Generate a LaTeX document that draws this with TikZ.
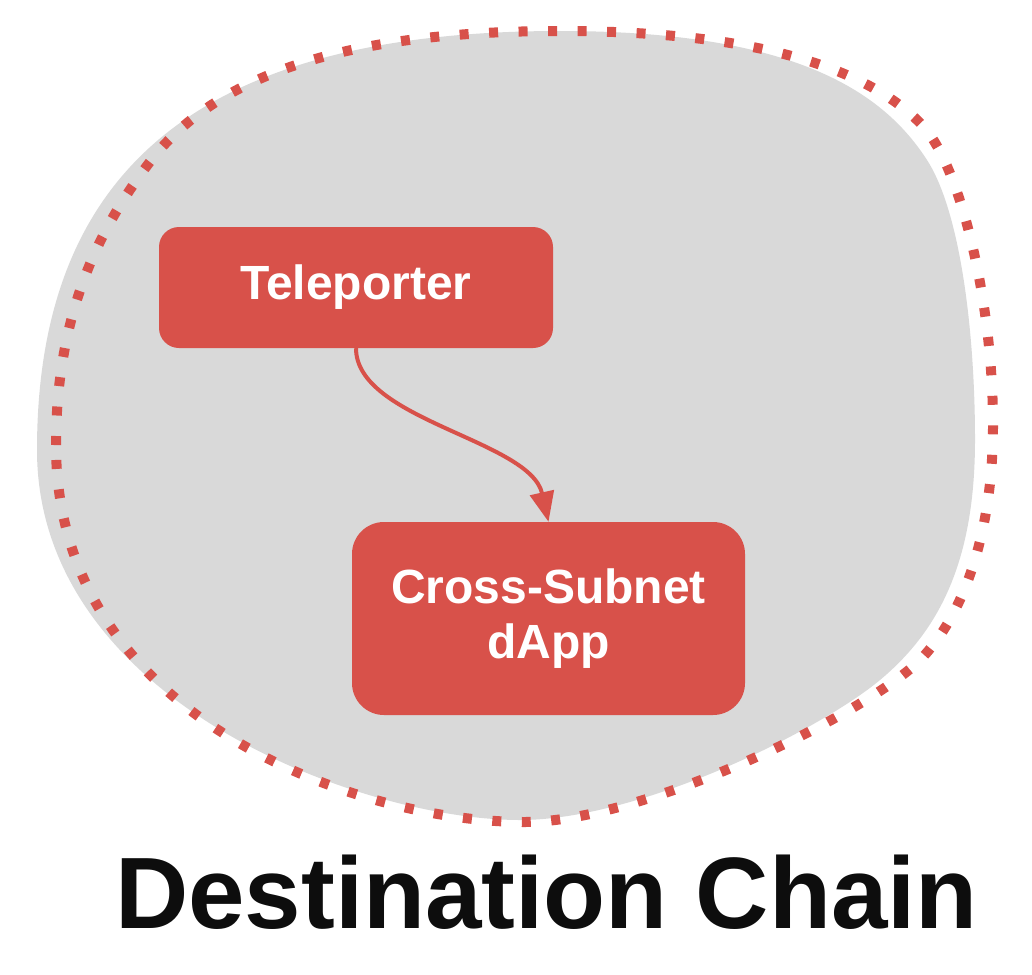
\documentclass[tikz,border=0pt]{standalone}
\usepackage{fontspec}
\setmainfont{Liberation Sans}
\usetikzlibrary{arrows.meta}
\definecolor{boxred}{HTML}{D8514A}
\definecolor{blobgray}{HTML}{D9D9D9}
\definecolor{titleblack}{HTML}{0D0D0D}
\tikzset{
  redbox/.style={fill=boxred, draw=none, text=white, font=\bfseries, align=center, inner sep=0pt},
  flow/.style={draw=boxred, line width=4pt, -{Triangle[length=30pt,width=24pt]}},
  dotline/.style={draw=boxred, line width=10pt, dash pattern=on 9pt off 20.5pt},
}
\begin{document}
\begin{tikzpicture}[x=1pt,y=-1pt]
\useasboundingbox (0,0) rectangle (1032,974);
% gray blob
\fill[blobgray] (37,450) .. controls (37,170) and (200,31) .. (560,31)
  .. controls (800,31) and (885,95) .. (927,160)
  .. controls (960,211) and (975,330) .. (975,440)
  .. controls (975,560) and (940,630) .. (880,680)
  .. controls (820,730) and (640,820) .. (520,820)
  .. controls (360,820) and (37,700) .. cycle;
% dotted outline
\draw[dotline] (56,445) .. controls (56,300) and (110,215) .. (149,163)
  .. controls (210,82) and (330,31) .. (560,31)
  .. controls (760,31) and (870,70) .. (922,125)
  .. controls (960,165) and (993,300) .. (993,425)
  .. controls (993,540) and (960,620) .. (919,661)
  .. controls (860,718) and (640,822) .. (525,822)
  .. controls (360,822) and (56,720) .. cycle;
% boxes
\node[redbox, minimum width=394pt, minimum height=121pt, rounded corners=20pt,
      font=\bfseries\fontsize{48}{55}\selectfont] (tele) at (356,287.5) {Teleporter};
\node[redbox, minimum width=393pt, minimum height=193pt, rounded corners=32pt,
      font=\bfseries\fontsize{48}{55}\selectfont] (dapp) at (548.5,618.5) {Cross-Subnet\\dApp};
% connector
\draw[flow] (tele.south) .. controls (356,420) and (530,440) .. (dapp.north);
% title
\node[anchor=base west, inner sep=0pt, text=titleblack,
      font=\bfseries\fontsize{101.5}{110}\selectfont] (title) at (115,928) {Destination Chain};
\end{tikzpicture}
\end{document}
